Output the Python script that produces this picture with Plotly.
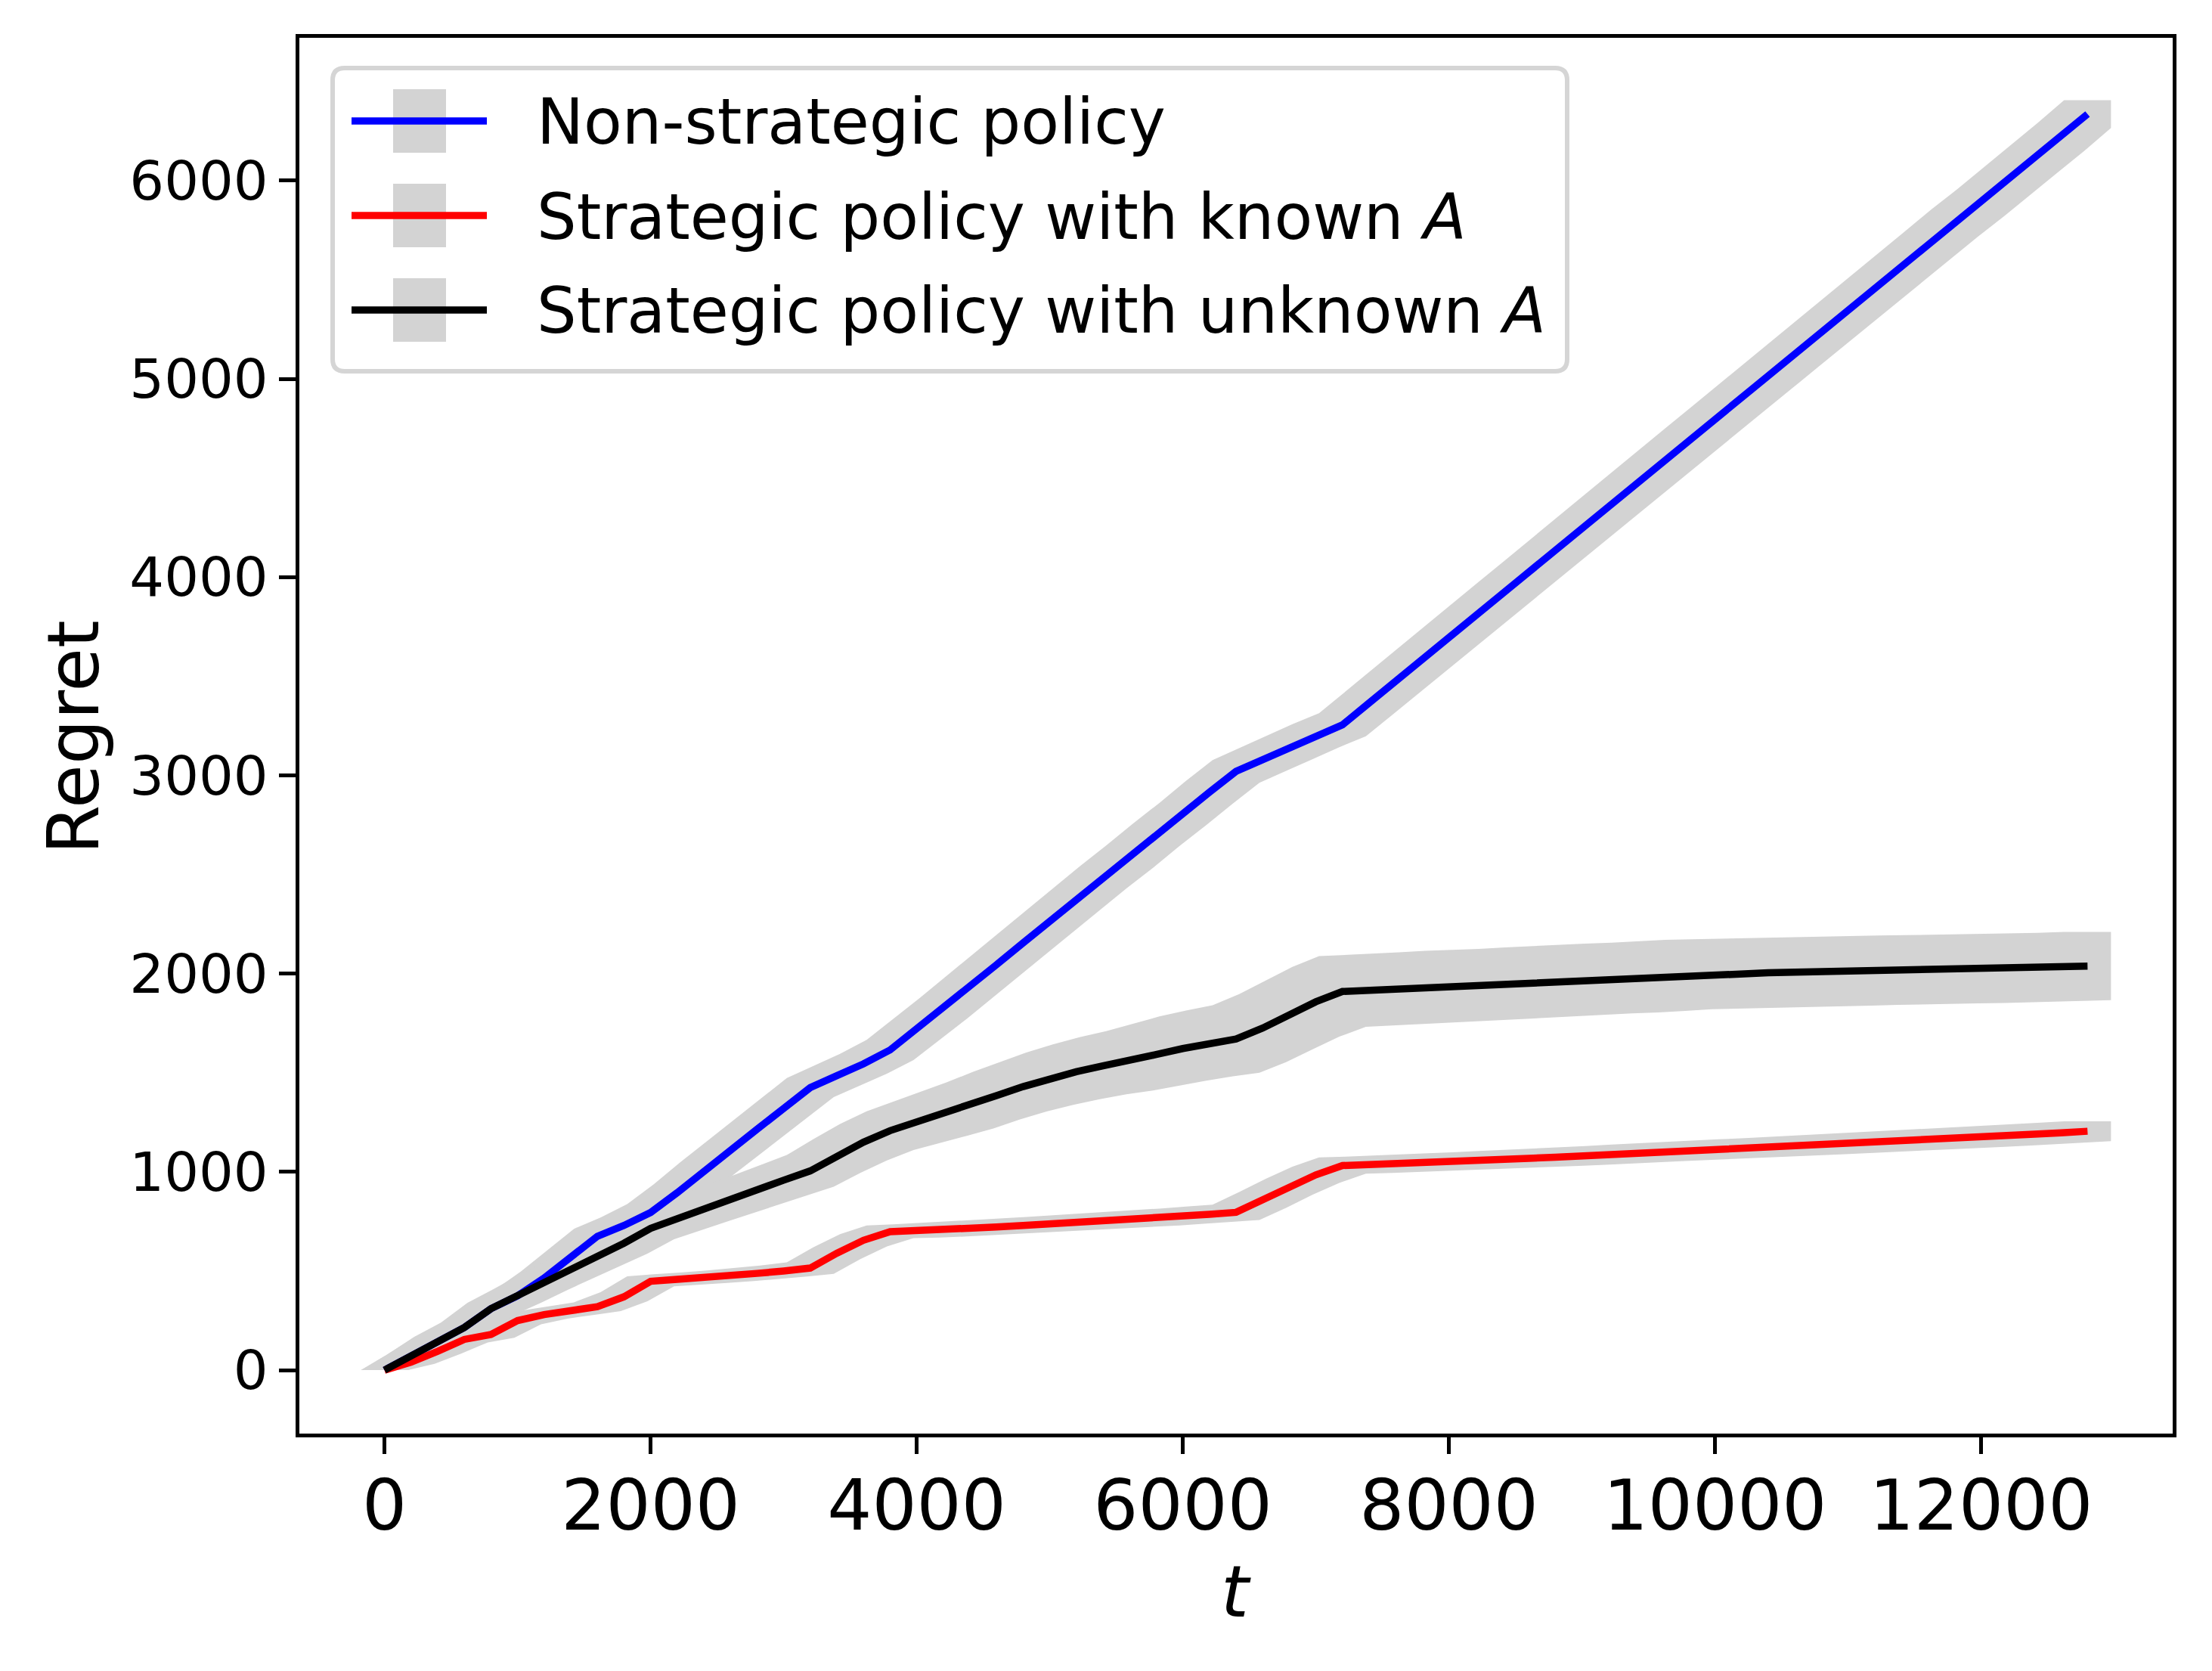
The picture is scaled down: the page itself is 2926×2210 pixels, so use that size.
import plotly.graph_objects as go

# ---------------- data ----------------
t = [0, 200, 400, 600, 800, 1000, 1200, 1400, 1600, 1800, 2000, 2200, 2400, 2600, 2800,
     3000, 3200, 3400, 3600, 3800, 4000, 4200, 4400, 4600, 4800, 5000, 5200, 5400, 5600,
     5800, 6000, 6200, 6400, 6600, 6800, 7000, 7200, 7400, 7600, 7800, 8000, 8200, 8400,
     8600, 8800, 9000, 9200, 9400, 9600, 9800, 10000, 10200, 10400, 10600, 10800, 11000,
     11200, 11400, 11600, 11800, 12000, 12200, 12400, 12600, 12800]

non_strategic = [0, 70, 150, 215, 310, 375, 465, 570, 675, 730, 795, 895, 1005, 1110, 1215,
                 1320, 1425, 1485, 1545, 1615, 1720, 1825, 1935, 2045, 2155, 2265, 2375, 2485, 2590,
                 2700, 2805, 2915, 3020, 3080, 3140, 3200, 3255, 3365, 3475, 3585, 3695, 3805, 3915,
                 4025, 4135, 4245, 4355, 4465, 4575, 4685, 4795, 4905, 5015, 5125, 5235, 5345,
                 5455, 5565, 5675, 5785, 5890, 6000, 6110, 6220, 6335]
non_strategic_err = [0, 10, 16, 20, 24, 28, 32, 35, 38, 40, 42, 43, 44, 45, 46,
                     47, 48, 49, 50, 51, 52, 53, 53, 54, 54, 55, 55, 55, 56,
                     56, 56, 57, 57, 57, 58, 58, 58, 59, 59, 60, 60, 60, 61,
                     61, 62, 62, 62, 63, 63, 64, 64, 64, 65, 65, 66, 66,
                     66, 67, 67, 68, 68, 69, 69, 70, 70]

known_A = [0, 40, 95, 155, 180, 250, 280, 300, 320, 370, 448, 458, 466, 476, 488,
           500, 515, 590, 655, 698, 702, 708, 715, 722, 730, 737, 745, 752, 760,
           768, 777, 786, 796, 858, 925, 985, 1032, 1036, 1040, 1045, 1050, 1056, 1062,
           1068, 1074, 1080, 1086, 1093, 1100, 1106, 1112, 1118, 1124, 1130, 1136, 1142,
           1149, 1156, 1162, 1168, 1175, 1182, 1190, 1197, 1205]
known_A_err = [0, 8, 12, 15, 17, 19, 20, 21, 22, 23, 25, 26, 26, 27, 27,
               28, 29, 30, 31, 32, 33, 34, 34, 35, 35, 36, 36, 37, 37,
               38, 38, 39, 39, 40, 40, 41, 41, 41, 42, 42, 42, 43, 43,
               43, 44, 44, 44, 45, 45, 45, 46, 46, 46, 47, 47, 47,
               48, 48, 48, 49, 49, 49, 50, 50, 50]

unknown_A = [0, 70, 150, 215, 310, 375, 445, 510, 575, 640, 715, 765, 815, 865, 910,
             958, 1005, 1080, 1150, 1208, 1250, 1292, 1335, 1385, 1430, 1470, 1505, 1535, 1560,
             1592, 1622, 1648, 1670, 1725, 1792, 1858, 1910, 1916, 1921, 1929, 1937, 1942, 1948,
             1955, 1962, 1968, 1975, 1980, 1988, 1995, 1998, 2001, 2004, 2007, 2010, 2013,
             2016, 2019, 2021, 2023, 2025, 2028, 2030, 2034, 2038]
unknown_A_err = [0, 10, 18, 25, 30, 35, 40, 44, 48, 52, 55, 60, 65, 70, 73,
                 76, 80, 85, 92, 98, 104, 110, 116, 120, 125, 132, 138, 144, 150,
                 156, 162, 166, 170, 172, 174, 176, 178, 178, 178, 178, 178, 177, 177,
                 177, 177, 176, 176, 176, 176, 175, 175, 175, 175, 174, 174, 174,
                 174, 173, 173, 173, 173, 172, 172, 172, 172]

series_names = ["Non-strategic policy",
                "Strategic policy with known <i>A</i>",
                "Strategic policy with unknown <i>A</i>"]
series_values = [non_strategic, known_A, unknown_A]
series_errors = [non_strategic_err, known_A_err, unknown_A_err]
series_colors = ["#0000FF", "#FF0000", "#000000"]

x_ticks = [0, 2000, 4000, 6000, 8000, 10000, 12000]
y_ticks = [0, 1000, 2000, 3000, 4000, 5000, 6000]

# ---------------- figure ----------------
W, H = 2926, 2210
L, R, T, B = 396, 2874, 50, 1896
X_RANGE = [-640, 13440]
Y_RANGE = [-320, 6720]
BAND = "#D3D3D3"
BAR_HALF_PX = 31          # half width of the (thick) error bars, in pixels
h = BAR_HALF_PX * (X_RANGE[1] - X_RANGE[0]) / (R - L)   # same, in data units

fig = go.Figure()

# grey error bands: union of thick vertical error bars (drawn under every line)
for vals, errs in zip(series_values, series_errors):
    up = [v + e for v, e in zip(vals, errs)]
    lo = [v - e for v, e in zip(vals, errs)]
    bx = [ti - h for ti in t] + [t[-1] + h] + [ti + h for ti in reversed(t)] + [t[0] - h]
    by = up + [up[-1]] + list(reversed(lo)) + [lo[0]]
    fig.add_trace(go.Scatter(
        x=bx, y=by, mode="lines", fill="toself", fillcolor=BAND,
        line=dict(width=0, color=BAND), showlegend=False, hoverinfo="skip"))

for name, vals, col in zip(series_names, series_values, series_colors):
    fig.add_trace(go.Scatter(
        x=t, y=vals, mode="lines", name=name,
        line=dict(color=col, width=9.5), showlegend=False))


def px(x):
    return (x - L) / (R - L)


def py(y):
    return (B - y) / (B - T)


# custom legend (matplotlib-like errorbar handles)
x0, y0, x1, y1, r = 440, 90, 2073, 491, 16
pts = [("M", x0 + r, y0), ("L", x1 - r, y0), ("Q", x1, y0, x1, y0 + r),
       ("L", x1, y1 - r), ("Q", x1, y1, x1 - r, y1), ("L", x0 + r, y1),
       ("Q", x0, y1, x0, y1 - r), ("L", x0, y0 + r), ("Q", x0, y0, x0 + r, y0)]
path = ""
for p in pts:
    if p[0] == "Q":
        path += f"Q{px(p[1])},{py(p[2])} {px(p[3])},{py(p[4])} "
    else:
        path += f"{p[0]}{px(p[1])},{py(p[2])} "
path += "Z"

shapes = [dict(type="path", path=path, xref="paper", yref="paper", layer="above",
               fillcolor="rgba(255,255,255,0.8)", line=dict(color="#D5D5D5", width=6))]
annotations = []
row_y = [160, 285, 410]
for name, col, yy in zip(series_names, series_colors, row_y):
    shapes.append(dict(type="rect", xref="paper", yref="paper", layer="above",
                       x0=px(520), x1=px(590), y0=py(yy - 42), y1=py(yy + 42),
                       fillcolor=BAND, line=dict(width=0)))
    shapes.append(dict(type="line", xref="paper", yref="paper", layer="above",
                       x0=px(465), x1=px(644), y0=py(yy), y1=py(yy),
                       line=dict(color=col, width=9.5)))
    annotations.append(dict(text=name, xref="paper", yref="paper", x=px(708), y=py(yy + 2),
                            xanchor="left", yanchor="middle", showarrow=False,
                            font=dict(family="DejaVu Sans", size=83, color="black")))

# axis titles
annotations.append(dict(text="Regret", xref="paper", yref="paper", x=px(97), y=py(975),
                        xanchor="center", yanchor="middle", textangle=-90, showarrow=False,
                        font=dict(family="DejaVu Sans", size=94, color="black")))
annotations.append(dict(text="<i>t</i>", xref="paper", yref="paper", x=px(1635), y=py(2105),
                        xanchor="center", yanchor="middle", showarrow=False,
                        font=dict(family="DejaVu Sans", size=94, color="black")))

axis_common = dict(showline=True, linecolor="black", linewidth=5, mirror=True,
                   ticks="outside", ticklen=22, tickwidth=5, tickcolor="black",
                   showgrid=False, zeroline=False)

fig.update_layout(
    width=W, height=H,
    margin=dict(l=L, r=W - R, t=T, b=H - B, pad=0),
    paper_bgcolor="white", plot_bgcolor="white",
    font=dict(family="DejaVu Sans", color="black"),
    xaxis=dict(range=X_RANGE, tickvals=x_ticks, ticktext=[str(v) for v in x_ticks],
               tickfont=dict(size=93, family="DejaVu Sans", color="black"),
               ticklabelstandoff=-12, **axis_common),
    yaxis=dict(range=Y_RANGE, tickvals=y_ticks, ticktext=[str(v) for v in y_ticks],
               tickfont=dict(size=72, family="DejaVu Sans", color="black"), **axis_common),
    shapes=shapes, annotations=annotations, showlegend=False,
)

fig.write_html("out.html", config={"displayModeBar": False},
               post_script="document.body.style.margin='0';document.body.style.overflow='hidden';")
